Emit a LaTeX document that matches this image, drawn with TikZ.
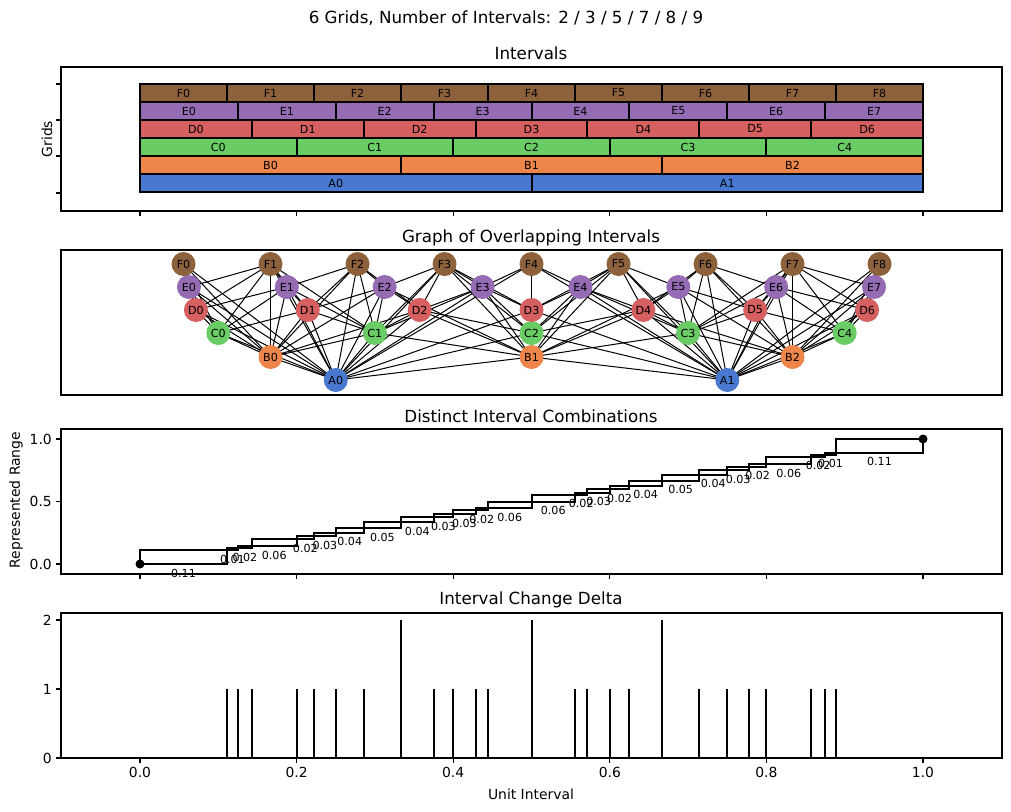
\documentclass[tikz,border=0pt]{standalone}
\usepackage{fontspec}
\setmainfont{DejaVu Sans}
\pgfdeclarelayer{bg}\pgfsetlayers{bg,main}
\definecolor{colA}{HTML}{4878D0}
\definecolor{colB}{HTML}{EE854A}
\definecolor{colC}{HTML}{6ACC64}
\definecolor{colD}{HTML}{D65F5F}
\definecolor{colE}{HTML}{956CB4}
\definecolor{colF}{HTML}{8C613C}
\tikzset{
  axbox/.style={line width=1.1pt},
  ticklbl/.style={font=\fontsize{13.9}{16}\selectfont, inner sep=0pt},
  ttl/.style={font=\fontsize{16.7}{19}\selectfont, inner sep=0pt},
  bar/.style={draw, line width=2pt, minimum height=18pt, inner sep=0pt, font=\fontsize{11.1}{13}\selectfont},
  gnode/.style={circle, minimum size=24pt, inner sep=0pt, font=\fontsize{11.1}{13}\selectfont},
  smalllbl/.style={font=\fontsize{11.1}{13}\selectfont, inner sep=0pt},
  tk/.style={line width=1.1pt}
}
\begin{document}
\begin{tikzpicture}[x=1pt,y=-1pt]
\useasboundingbox (0,0) rectangle (1011,811);
\node[ttl] (suptitle) at (506,18) {6 Grids, Number of Intervals: 2 / 3 / 5 / 7 / 8 / 9};
% ---------- Panel 1
\node[ttl] (t1) at (531,53) {Intervals};
\draw[axbox] (61,67) rectangle (1002,211);
\foreach \yy in {84,120,156,193} \draw[tk] (61,\yy) -- (56,\yy);
\foreach \xx in {0,0.2,0.4,0.6,0.8,1} \draw[tk] ({140+783*\xx},211) -- ({140+783*\xx},216);
\node[ticklbl, rotate=90] (ylab1) at (47,139) {Grids};
\foreach \g/\n/\top in {F/9/84, E/8/102, D/7/120, C/5/138, B/3/156, A/2/174} {
  \pgfmathtruncatemacro\na{\n-1}
  \pgfmathsetmacro\w{783/\n}
  \foreach \i in {0,...,\na}
    \node[bar, fill=col\g, minimum width=\w pt] (bar\g\i) at ({140+783*(\i+0.5)/\n},\top+9) {\g\i};
}
% ---------- Panel 2
\node[ttl] (t2) at (531,238) {Graph of Overlapping Intervals};
\draw[axbox] (61,250) rectangle (1002,395);
\foreach \g/\n/\yy in {A/2/380, B/3/357, C/5/333, D/7/310, E/8/287, F/9/264} {
  \pgfmathtruncatemacro\na{\n-1}
  \foreach \i in {0,...,\na}
    \node[gnode, fill=col\g] (\g\i) at ({140+783*(\i+0.5)/\n},\yy) {\g\i};
}
\begin{pgfonlayer}{bg}
\foreach \g/\n/\h/\m in {A/2/B/3, A/2/C/5, A/2/D/7, A/2/E/8, A/2/F/9, B/3/C/5, B/3/D/7, B/3/E/8, B/3/F/9, C/5/D/7, C/5/E/8, C/5/F/9, D/7/E/8, D/7/F/9, E/8/F/9} {
  \pgfmathtruncatemacro\na{\n-1}
  \pgfmathtruncatemacro\ma{\m-1}
  \foreach \i in {0,...,\na} {
    \foreach \j in {0,...,\ma} {
      \ifnum\numexpr\i*\m\relax<\numexpr(\j+1)*\n\relax
        \ifnum\numexpr\j*\n\relax<\numexpr(\i+1)*\m\relax
          \draw[line width=1pt] (\g\i.center) -- (\h\j.center);
        \fi
      \fi
    }
  }
}
\end{pgfonlayer}
% ---------- Panel 3
\node[ttl] (t3) at (531,416) {Distinct Interval Combinations};
\draw[axbox] (61,429) rectangle (1002,574);
\foreach \xx in {0,0.2,0.4,0.6,0.8,1} \draw[tk] ({140+783*\xx},574) -- ({140+783*\xx},579);
\foreach \v in {0.0,0.5,1.0} {
  \draw[tk] (61,{564-125*\v}) -- (56,{564-125*\v});
  \node[ticklbl, anchor=east] (y3\v) at (52,{564-125*\v}) {\v};
}
\node[ticklbl, rotate=90] (ylab3) at (16,500) {Represented Range};
\begin{scope}[shift={(140,564)}, x=783pt, y=125pt]
\foreach \a/\b/\l [count=\k] in {0/1/9*0+0.111111/0.11}{}
\foreach \a/\b/\l [count=\k] in {
 0/0.111111/0.11, 0.111111/0.125/0.01, 0.125/0.142857/0.02, 0.142857/0.2/0.06,
 0.2/0.222222/0.02, 0.222222/0.25/0.03, 0.25/0.285714/0.04, 0.285714/0.333333/0.05,
 0.333333/0.375/0.04, 0.375/0.4/0.03, 0.4/0.428571/0.03, 0.428571/0.444444/0.02,
 0.444444/0.5/0.06, 0.5/0.555556/0.06, 0.555556/0.571429/0.02, 0.571429/0.6/0.03,
 0.6/0.625/0.02, 0.625/0.666667/0.04, 0.666667/0.714286/0.05, 0.714286/0.75/0.04,
 0.75/0.777778/0.03, 0.777778/0.8/0.02, 0.8/0.857143/0.06, 0.857143/0.875/0.02,
 0.875/0.888889/0.01, 0.888889/1/0.11} {
  \draw[line width=2pt] (\a,\a) rectangle (\b,\b);
  \node[smalllbl] (lbl\k) at ({(\a+\b)/2},\a) [yshift=-9pt] {\l};
}
\fill (0,0) circle (4.5pt);
\fill (1,1) circle (4.5pt);
\end{scope}
% ---------- Panel 4
\node[ttl] (t4) at (531,600) {Interval Change Delta};
\draw[axbox] (61,613) rectangle (1002,758);
\foreach \v in {0,1,2} {
  \draw[tk] (61,{758-69*\v}) -- (56,{758-69*\v});
  \node[ticklbl, anchor=east] (y4\v) at (52,{758-69*\v}) {\v};
}
\foreach \xx in {0.0,0.2,0.4,0.6,0.8,1.0} {
  \draw[tk] ({140+783*\xx},758) -- ({140+783*\xx},763);
  \node[ticklbl, anchor=north] (x4\xx) at ({140+783*\xx},767) {\xx};
}
\foreach \xx in {-0.1,1.1} {}
\node[ticklbl, anchor=north] (x4m) at ({140-783*0.1},767) {};
\node[ticklbl] (xlab4) at (531,794) {Unit Interval};
\begin{scope}[shift={(140,758)}, x=783pt, y=69pt]
\foreach \p/\c in {0.111111/1, 0.125/1, 0.142857/1, 0.2/1, 0.222222/1, 0.25/1, 0.285714/1, 0.333333/2, 0.375/1, 0.4/1, 0.428571/1, 0.444444/1, 0.5/2, 0.555556/1, 0.571429/1, 0.6/1, 0.625/1, 0.666667/2, 0.714286/1, 0.75/1, 0.777778/1, 0.8/1, 0.857143/1, 0.875/1, 0.888889/1}
  \draw[line width=2pt] (\p,0) -- (\p,\c);
\end{scope}
\end{tikzpicture}
\end{document}
